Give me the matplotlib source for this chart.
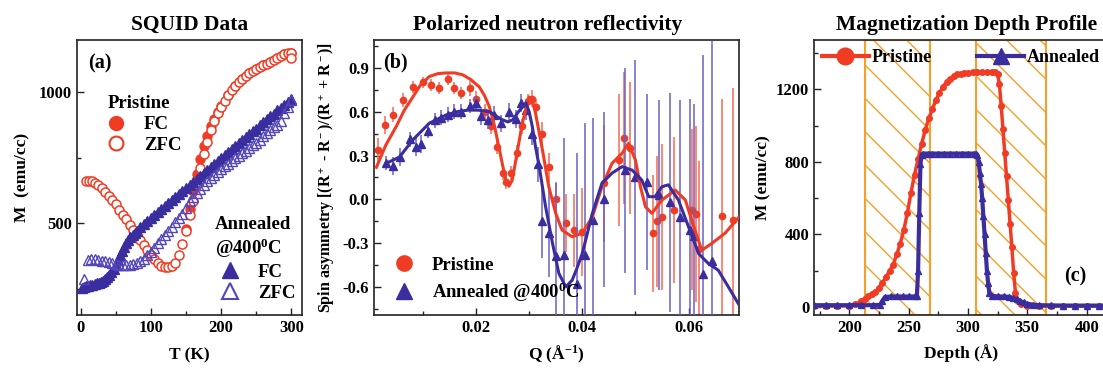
import matplotlib
matplotlib.use('Agg')
import matplotlib.pyplot as plt
from matplotlib.lines import Line2D
from matplotlib.ticker import MultipleLocator, FuncFormatter

plt.rcParams.update({
    'font.family': ['Liberation Serif', 'DejaVu Serif'],
    'font.weight': 'bold',
    'axes.labelweight': 'bold',
    'axes.titleweight': 'bold',
    'mathtext.fontset': 'custom',
    'mathtext.rm': 'Liberation Serif:bold',
    'mathtext.bf': 'Liberation Serif:bold',
    'mathtext.it': 'Liberation Serif:bold:italic',
    'mathtext.default': 'bf',
    'axes.unicode_minus': False,
    'hatch.linewidth': 1.0,
})

RED = '#f03c24'
BLUE = '#3a2e9e'
BLUE_OPEN = '#5246b8'
ORANGE = '#f5a02a'

# ---------------- Panel (a) SQUID data ----------------
pristine_zfc_T = [8, 12, 16, 20, 25, 30, 35, 40, 45, 50, 55, 60, 65, 70, 75, 80, 85, 90, 95, 100,
                  105, 110, 115, 120, 125, 130, 135, 140, 145, 150, 155, 160, 165, 170, 175, 180,
                  185, 190, 195, 200, 205, 210, 215, 220, 225, 230, 235, 240, 245, 250, 255, 260,
                  265, 270, 275, 280, 285, 290, 295, 300, 300]
pristine_zfc_M = [662, 662, 660, 655, 645, 635, 620, 605, 590, 572, 552, 533, 515, 495, 475, 455,
                  437, 418, 398, 380, 362, 348, 337, 332, 333, 338, 350, 380, 420, 470, 530, 585,
                  650, 710, 765, 812, 855, 890, 920, 945, 968, 990, 1008, 1025, 1040, 1052, 1063,
                  1073, 1082, 1090, 1097, 1104, 1110, 1117, 1125, 1133, 1140, 1146, 1150, 1150, 1130]
pristine_fc_T = [150, 155, 160, 165, 170, 175, 180, 185, 190, 195, 200, 210, 220, 230, 240, 250,
                 260, 270, 280, 290, 300]
pristine_fc_M = [480, 555, 625, 690, 745, 795, 835, 870, 900, 925, 948, 990, 1025, 1052, 1073,
                 1090, 1104, 1117, 1133, 1146, 1150]
annealed_fc_T = [2, 5, 8, 11, 14, 17, 20, 23, 26, 29, 32, 35, 38, 41, 44, 47, 50, 53, 56, 59, 62,
                 65, 68, 71, 74, 77, 80, 85, 90, 95, 100, 105, 110, 115, 120, 125, 130, 135, 140,
                 145, 150, 155, 160, 165, 170, 175, 180, 185, 190, 195, 200, 205, 210, 215, 220,
                 225, 230, 235, 240, 245, 250, 255, 260, 265, 270, 275, 280, 285, 290, 295, 300]
annealed_fc_M = [255, 257, 259, 261, 263, 265, 268, 271, 274, 277, 281, 287, 295, 303, 313, 325,
                 342, 360, 378, 395, 410, 424, 436, 447, 456, 464, 472, 485, 497, 509, 521, 533,
                 544, 555, 566, 578, 589, 601, 612, 623, 634, 646, 657, 668, 680, 691, 703, 714,
                 725, 737, 748, 760, 771, 782, 794, 805, 817, 828, 840, 851, 862, 874, 885, 897,
                 908, 919, 931, 942, 953, 964, 975]
annealed_zfc_T = [5, 10, 15, 20, 25, 30, 35, 40, 45, 50, 55, 60, 65, 70, 75, 80, 85, 90, 95, 100,
                  105, 110, 115, 120, 125, 130, 135, 140, 145, 150, 155, 160, 165, 170, 175, 180,
                  185, 190, 195, 200, 205, 210, 215, 220, 225, 230, 235, 240, 245, 250, 255, 260,
                  265, 270, 275, 280, 285, 290, 295, 300]
annealed_zfc_M = [289, 360, 365, 362, 360, 358, 355, 352, 350, 345, 342, 340, 340, 342, 345, 350,
                  356, 365, 378, 392, 407, 425, 440, 455, 470, 487, 505, 520, 535, 560, 585, 600,
                  615, 630, 645, 660, 672, 684, 696, 708, 718, 728, 738, 748, 758, 768, 778, 788,
                  798, 808, 820, 832, 845, 855, 866, 875, 890, 920, 945, 970]

# ---------------- Panel (b) PNR spin asymmetry ----------------
red_Q = [0.0016, 0.0028, 0.0044, 0.0062, 0.0081, 0.0100, 0.0116, 0.0131, 0.0147, 0.0158, 0.0172,
         0.0188, 0.0200, 0.0216, 0.0228, 0.0240, 0.0250, 0.0256, 0.0266, 0.0278, 0.0287, 0.0297,
         0.0306, 0.0312, 0.0325, 0.0337, 0.0350, 0.0369, 0.0384, 0.0400, 0.0441, 0.0469, 0.0478,
         0.0490, 0.0534, 0.0541, 0.0550, 0.0572, 0.0606, 0.0614, 0.0619, 0.0663, 0.0684]
red_v = [0.34, 0.51, 0.58, 0.68, 0.77, 0.80, 0.78, 0.76, 0.82, 0.76, 0.73, 0.76, 0.69, 0.60, 0.50,
         0.36, 0.18, 0.12, 0.18, 0.32, 0.50, 0.67, 0.69, 0.63, 0.45, 0.22, 0.00, -0.16, -0.21,
         -0.22, 0.11, 0.27, 0.42, 0.35, -0.23, -0.15, -0.12, -0.07, -0.07, -0.10, -0.34, -0.11, -0.14]
red_err = [0.08, 0.06, 0.05, 0.05, 0.04, 0.04, 0.04, 0.04, 0.04, 0.04, 0.04, 0.05, 0.05, 0.05,
           0.05, 0.05, 0.05, 0.05, 0.05, 0.05, 0.05, 0.05, 0.06, 0.06, 0.08, 0.10, 0.12, 0.2, 0.25,
           0.3, 0.4, 0.45, 0.45, 0.45, 0.4, 0.45, 0.5, 0.5, 0.55, 0.6, 0.6, 0.8, 0.9]
blue_Q = [0.0031, 0.0044, 0.0056, 0.0075, 0.0087, 0.0097, 0.0109, 0.0122, 0.0134, 0.0147, 0.0159,
          0.0172, 0.0188, 0.0200, 0.0210, 0.0222, 0.0234, 0.0247, 0.0262, 0.0275, 0.0285, 0.0294,
          0.0306, 0.0316, 0.0325, 0.0337, 0.0350, 0.0366, 0.0390, 0.0406, 0.0420, 0.0441, 0.0480,
          0.0500, 0.0522, 0.0544, 0.0566, 0.0584, 0.0603, 0.0611, 0.0628, 0.0644]
blue_v = [0.25, 0.23, 0.29, 0.41, 0.36, 0.38, 0.47, 0.54, 0.56, 0.58, 0.60, 0.60, 0.64, 0.66, 0.57,
          0.54, 0.58, 0.52, 0.60, 0.55, 0.66, 0.61, 0.45, 0.24, -0.15, -0.23, -0.39, -0.38, -0.58,
          -0.38, -0.14, 0.00, 0.20, 0.15, 0.12, 0.03, -0.02, -0.12, -0.21, -0.25, -0.51, -0.42]
blue_err = [0.05, 0.06, 0.06, 0.05, 0.06, 0.06, 0.05, 0.05, 0.05, 0.05, 0.05, 0.05, 0.05, 0.05,
            0.06, 0.06, 0.06, 0.06, 0.06, 0.06, 0.06, 0.07, 0.08, 0.12, 0.25, 0.3, 0.5, 0.8, 0.9,
            0.9, 0.7, 0.6, 0.7, 0.8, 0.6, 0.65, 0.75, 0.8, 0.9, 0.9, 1.5, 1.5]
red_fit_Q = [0.00125, 0.0030, 0.0050, 0.0065, 0.0081, 0.0095, 0.0112, 0.0128, 0.0144, 0.016,
             0.0175, 0.019, 0.0206, 0.0216, 0.0225, 0.0235, 0.0244, 0.0256, 0.0262, 0.0268,
             0.0275, 0.0287, 0.0300, 0.0306, 0.0312, 0.0325, 0.0337, 0.0350, 0.0362, 0.0381,
             0.0400, 0.0419, 0.0437, 0.0456, 0.0475, 0.0487, 0.0500, 0.0510, 0.0519, 0.0531,
             0.0550, 0.0575, 0.0594, 0.0612, 0.0625, 0.0644, 0.0669, 0.0695]
red_fit_v = [0.22, 0.37, 0.50, 0.61, 0.70, 0.78, 0.84, 0.86, 0.865, 0.865, 0.852, 0.82, 0.77, 0.71,
             0.635, 0.50, 0.34, 0.13, 0.09, 0.13, 0.27, 0.52, 0.70, 0.68, 0.59, 0.34, 0.087,
             -0.095, -0.21, -0.255, -0.23, -0.12, 0.087, 0.247, 0.316, 0.384, 0.27, 0.08, -0.05,
             -0.095, -0.004, 0.064, -0.004, -0.21, -0.347, -0.30, -0.23, -0.12]
blue_fit_Q = [0.0031, 0.0056, 0.0081, 0.0112, 0.0144, 0.0165, 0.0187, 0.0206, 0.0225, 0.0240,
              0.0250, 0.0260, 0.0269, 0.0280, 0.0294, 0.0300, 0.0306, 0.0312, 0.0319, 0.0331,
              0.0344, 0.0356, 0.0369, 0.0381, 0.0390, 0.0400, 0.0419, 0.0437, 0.0456, 0.0475,
              0.0494, 0.0512, 0.0525, 0.0537, 0.0550, 0.0562, 0.0581, 0.0600, 0.0619, 0.0637,
              0.0656, 0.0675, 0.0695]
blue_fit_v = [0.247, 0.29, 0.407, 0.521, 0.578, 0.60, 0.612, 0.61, 0.60, 0.565, 0.544, 0.53, 0.544,
              0.60, 0.66, 0.60, 0.498, 0.36, 0.224, -0.05, -0.30, -0.506, -0.598, -0.552, -0.47,
              -0.37, -0.095, 0.11, 0.18, 0.224, 0.20, 0.133, 0.019, 0.019, 0.087, 0.10, -0.004,
              -0.187, -0.37, -0.437, -0.484, -0.598, -0.72]

# ---------------- Panel (c) magnetization depth profile ----------------
prist_D = [170, 180, 190, 200, 205, 210, 213, 216, 219, 222, 225, 228, 231, 234, 237, 240, 243,
           246, 249, 252, 255, 258, 261, 264, 267, 270, 273, 276, 279, 282, 285, 288, 291, 294,
           297, 300, 304, 308, 312, 316, 320, 323, 325, 326.5, 328, 329.5, 331, 332.5, 334, 335.5,
           337, 338.5, 340, 342, 345, 350, 360, 370, 380, 390, 400, 410, 420]
prist_M = [5, 5, 5, 8, 15, 32, 45, 58, 70, 85, 105, 135, 165, 200, 233, 290, 350, 425, 520, 630,
           730, 815, 900, 975, 1040, 1090, 1140, 1180, 1215, 1240, 1258, 1272, 1282, 1287, 1290,
           1292, 1294, 1295, 1295, 1295, 1295, 1293, 1285, 1230, 1110, 980, 850, 720, 590, 460,
           330, 190, 80, 35, 15, 8, 5, 5, 5, 5, 5, 5, 5]
ann_D = [170, 180, 190, 200, 210, 220, 226, 228, 230, 235, 240, 245, 250, 255, 257, 258, 259, 260,
         261, 262, 266, 270, 275, 280, 285, 290, 295, 300, 305, 307, 308, 309, 310, 311, 312, 313,
         314, 315, 316, 317, 318, 320, 325, 330, 335, 338, 341, 344, 347, 350, 355, 360, 370, 380,
         390, 400, 410, 420]
ann_M = [10, 10, 10, 10, 10, 10, 12, 35, 55, 58, 58, 58, 58, 58, 62, 200, 520, 790, 840, 846, 846,
         846, 846, 846, 846, 846, 846, 846, 846, 845, 838, 800, 740, 680, 600, 500, 400, 300, 200,
         130, 80, 62, 58, 58, 56, 50, 42, 33, 25, 18, 13, 10, 9, 8, 8, 8, 8, 8]
layer_regions = [(213, 268), (307, 366)]

# ---------------- Figure ----------------
W, H = 1103, 369
fig = plt.figure(figsize=(W / 100, H / 100), dpi=100)


def box(l, t, r, b):
    return [l / W, 1 - b / H, (r - l) / W, (b - t) / H]


ax1 = fig.add_axes(box(77, 40, 302, 315))
ax2 = fig.add_axes(box(374, 40, 739, 315))
ax3 = fig.add_axes(box(814, 40, 1108, 315))

for ax in (ax1, ax2, ax3):
    ax.tick_params(which='both', direction='in', top=False, right=False, labelsize=12,
                   width=1.0, color='#222222')
    ax.tick_params(which='major', length=5)
    ax.tick_params(which='minor', length=3)
    for s in ax.spines.values():
        s.set_linewidth(1.2)
        s.set_color('#222222')

# Panel (a)
ax1.plot(pristine_fc_T, pristine_fc_M, ls='none', marker='o', ms=6.5, mfc=RED, mec=RED, zorder=2)
ax1.plot(pristine_zfc_T, pristine_zfc_M, ls='none', marker='o', ms=6.5, mfc='white', mec=RED,
         mew=1.1, zorder=3)
ax1.plot(annealed_fc_T, annealed_fc_M, ls='none', marker='^', ms=6.5, mfc=BLUE, mec=BLUE, zorder=4)
ax1.plot(annealed_zfc_T, annealed_zfc_M, ls='none', marker='^', ms=6.5, mfc='none', mec=BLUE_OPEN,
         mew=1.0, zorder=5)
ax1.set_xlim(-5, 315)
ax1.set_ylim(150, 1200)
ax1.xaxis.set_major_locator(MultipleLocator(100))
ax1.xaxis.set_minor_locator(MultipleLocator(50))
ax1.yaxis.set_major_locator(MultipleLocator(500))
ax1.yaxis.set_minor_locator(MultipleLocator(250))
ax1.set_xlabel('T (K)', fontsize=12.5, labelpad=8)
ax1.set_ylabel('M  (emu/cc)', fontsize=12.5, labelpad=6)
ax1.set_title('SQUID Data', fontsize=15.5, pad=7)
ax1.text(0.05, 0.95, '(a)', transform=ax1.transAxes, fontsize=14.5, va='top', ha='left')

h_pfc = Line2D([], [], ls='none', marker='o', ms=10, mfc=RED, mec=RED)
h_pzfc = Line2D([], [], ls='none', marker='o', ms=10, mfc='white', mec=RED, mew=1.5)
leg_a1 = ax1.legend([h_pfc, h_pzfc], ['FC', 'ZFC'], title='Pristine', loc='upper left',
                    bbox_to_anchor=(0.04, 0.84), frameon=False, fontsize=13.5, title_fontsize=13.5,
                    handletextpad=0.5, labelspacing=0.2, borderpad=0.1, alignment='center')
leg_a1.get_title().set_fontweight('bold')
ax1.add_artist(leg_a1)
h_afc = Line2D([], [], ls='none', marker='^', ms=11, mfc=BLUE, mec=BLUE)
h_azfc = Line2D([], [], ls='none', marker='^', ms=11, mfc='none', mec=BLUE_OPEN, mew=1.5)
leg_a2 = ax1.legend([h_afc, h_azfc], ['FC', 'ZFC'], title='Annealed\n@400$^0$C', loc='lower right',
                    bbox_to_anchor=(1.03, 0.0), frameon=False, fontsize=13.5, title_fontsize=13.5,
                    handletextpad=0.5, labelspacing=0.2, borderpad=0.2, alignment='center')
leg_a2.get_title().set_fontweight('bold')

# Panel (b)
ax2.errorbar(red_Q, red_v, yerr=red_err, ls='none', marker='o', ms=4.5, mfc=RED, mec=RED,
             ecolor='#f26a55', elinewidth=1.1, capsize=0, zorder=2)
ax2.errorbar(blue_Q, blue_v, yerr=blue_err, ls='none', marker='^', ms=6, mfc=BLUE, mec=BLUE,
             ecolor='#6a60c4', elinewidth=1.1, capsize=0, zorder=3)
ax2.plot(red_fit_Q, red_fit_v, color=RED, lw=2.2, zorder=4)
ax2.plot(blue_fit_Q, blue_fit_v, color=BLUE, lw=2.2, zorder=5)
ax2.set_xlim(0.0008, 0.0695)
ax2.set_ylim(-0.79, 1.09)
ax2.xaxis.set_major_locator(MultipleLocator(0.02))
ax2.xaxis.set_minor_locator(MultipleLocator(0.01))
ax2.yaxis.set_major_locator(MultipleLocator(0.3))
ax2.yaxis.set_minor_locator(MultipleLocator(0.15))
ax2.yaxis.set_major_formatter(FuncFormatter(lambda v, p: '%.1f' % v))
ax2.xaxis.set_major_formatter(FuncFormatter(lambda v, p: '%.2f' % v))
ax2.set_xlabel('Q (Å$^{-1}$)', fontsize=12.5, labelpad=6)
ax2.set_ylabel('Spin asymmetry [(R$^+$ - R$^-$)/(R$^+$ + R$^-$)]', fontsize=11.5, labelpad=4)
ax2.set_title('Polarized neutron reflectivity', fontsize=15.5, pad=7, x=0.475)
ax2.text(0.025, 0.955, '(b)', transform=ax2.transAxes, fontsize=14.5, va='top', ha='left')
h_bp = Line2D([], [], ls='none', marker='o', ms=11, mfc=RED, mec=RED)
h_ba = Line2D([], [], ls='none', marker='^', ms=12, mfc=BLUE, mec=BLUE)
ax2.legend([h_bp, h_ba], ['Pristine', 'Annealed @400$^0$C'], loc='lower left',
           bbox_to_anchor=(0.0, 0.0), frameon=False, fontsize=13.5, handletextpad=0.5,
           labelspacing=0.35, borderpad=0.1)

# Panel (c)
for (x0, x1) in layer_regions:
    ax3.axvspan(x0, x1, facecolor='none', edgecolor=ORANGE, hatch='\\', lw=1.5, zorder=1)
ax3.plot(prist_D, prist_M, color=RED, lw=2.5, marker='o', ms=4, mfc=RED, mec=RED, zorder=3)
ax3.plot(ann_D, ann_M, color=BLUE, lw=3, marker='^', ms=4.5, mfc=BLUE, mec=BLUE, zorder=4)
ax3.set_xlim(170.3, 418)
ax3.set_ylim(-44, 1472)
ax3.xaxis.set_major_locator(MultipleLocator(50))
ax3.xaxis.set_minor_locator(MultipleLocator(25))
ax3.yaxis.set_major_locator(MultipleLocator(400))
ax3.yaxis.set_minor_locator(MultipleLocator(200))
ax3.set_xlabel('Depth (Å)', fontsize=12.5, labelpad=6)
ax3.set_ylabel('M (emu/cc)', fontsize=12.5, labelpad=3)
ax3.set_title('Magnetization Depth Profile', fontsize=15.5, pad=7, x=0.52)
ax3.text(0.89, 0.14, '(c)', transform=ax3.transAxes, fontsize=14.5, va='center', ha='center')
h_cp = Line2D([], [], color=RED, lw=3, marker='o', ms=12, mfc=RED, mec=RED)
h_ca = Line2D([], [], color=BLUE, lw=3, marker='^', ms=12, mfc=BLUE, mec=BLUE)
leg_c1 = ax3.legend([h_cp], ['Pristine'], loc='upper left', bbox_to_anchor=(-0.005, 1.0),
                    frameon=False, fontsize=13, handlelength=2.6, handletextpad=0.15,
                    borderpad=0.3, borderaxespad=0.2)
ax3.add_artist(leg_c1)
ax3.legend([h_ca], ['Annealed'], loc='upper left', bbox_to_anchor=(0.525, 1.0),
           frameon=False, fontsize=13, handlelength=2.6, handletextpad=0.15,
           borderpad=0.3, borderaxespad=0.2)

fig.savefig('out.png', dpi=100)
